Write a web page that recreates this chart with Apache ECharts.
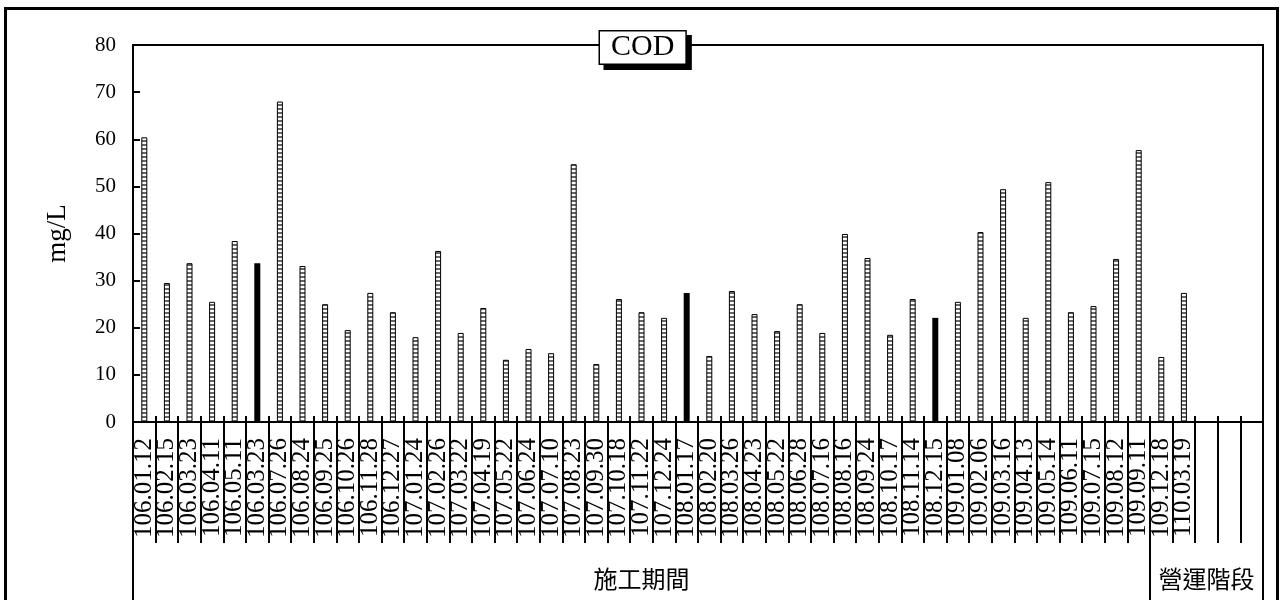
<!DOCTYPE html>
<html>
<head>
<meta charset="utf-8">
<script src="https://cdn.jsdelivr.net/npm/echarts@6/dist/echarts.min.js"></script>
<style>
html,body{margin:0;padding:0;background:#fff;}
#chart{width:1280px;height:600px;}
</style>
</head>
<body>
<div id="chart"></div>
<script>
// ---- data ----
const categories = [
  '106.01.12','106.02.15','106.03.23','106.04.11','106.05.11','106.03.23','106.07.26','106.08.24','106.09.25','106.10.26','106.11.28','106.12.27',
  '107.01.24','107.02.26','107.03.22','107.04.19','107.05.22','107.06.24','107.07.10','107.08.23','107.09.30','107.10.18','107.11.22','107.12.24',
  '108.01.17','108.02.20','108.03.26','108.04.23','108.05.22','108.06.28','108.07.16','108.08.16','108.09.24','108.10.17','108.11.14','108.12.15',
  '109.01.08','109.02.06','109.03.16','109.04.13','109.05.14','109.06.11','109.07.15','109.08.12','109.09.11',
  '109.12.18','110.03.19','','',''
];
const codValues = [
  60.4, 29.5, 33.7, 25.5, 38.4, 33.7, 68.0, 33.1, 25.0, 19.5, 27.4, 23.3,
  18.0, 36.3, 18.9, 24.2, 13.2, 15.5, 14.6, 54.7, 12.3, 26.1, 23.3, 22.1,
  27.4, 14.0, 27.8, 22.9, 19.3, 25.0, 18.9, 39.9, 34.8, 18.5, 26.1, 22.1,
  25.5, 40.3, 49.4, 22.1, 50.9, 23.3, 24.6, 34.6, 57.7,
  13.8, 27.4, null, null, null
];
const solidBarIndex = [5, 24, 35];
const phaseNames = ['施工期間', '營運階段'];
const phaseCounts = [45, 5];
const yTicks = [0, 10, 20, 30, 40, 50, 60, 70, 80];
const titleText = 'COD';
const yName = 'mg/L';

// ---- build ----
const pc = document.createElement('canvas');
pc.width = 1; pc.height = 4;
const ctx = pc.getContext('2d');
ctx.fillStyle = '#fff'; ctx.fillRect(0, 0, 1, 4);
ctx.fillStyle = '#666'; ctx.fillRect(0, 0, 1, 2);

const barData = codValues.map((v, i) => {
  if (solidBarIndex.indexOf(i) >= 0) {
    return { value: v, itemStyle: { color: '#000', borderColor: '#000', borderWidth: 0 } };
  }
  return { value: v };
});

const phaseLabels = categories.map(() => '');
const phaseStarts = [];
let start = 0;
phaseNames.forEach((n, k) => {
  phaseStarts.push(start);
  const mid = start + Math.floor(phaseCounts[k] / 2);
  phaseLabels[mid] = n;
  start += phaseCounts[k];
});

const serif = '"Liberation Serif","Times New Roman",serif';
const chart = echarts.init(document.getElementById('chart'));
chart.setOption({
  animation: false,
  backgroundColor: '#fff',
  title: {
    text: '{box|' + titleText + '}',
    left: 600,
    top: 31,
    padding: 0,
    textStyle: {
      rich: {
        box: {
          fontFamily: serif, fontSize: 30, fontWeight: 'normal', color: '#000', lineHeight: 33,
          backgroundColor: '#fff', borderColor: '#000', borderWidth: 1.5,
          padding: [1, 11, 1, 11],
          shadowColor: '#000', shadowBlur: 0, shadowOffsetX: 5, shadowOffsetY: 5
        }
      }
    }
  },
  graphic: [{
    type: 'rect', silent: true, z: 100,
    shape: { x: 5.5, y: 8.5, width: 1272, height: 640 },
    style: { fill: 'none', stroke: '#000', lineWidth: 3 }
  }],
  grid: {
    left: 133, right: 17, top: 45, bottom: 178,
    show: true, borderColor: '#000', borderWidth: 2, backgroundColor: 'transparent'
  },
  xAxis: [
    {
      type: 'category', data: categories, position: 'bottom',
      axisLine: { show: true, lineStyle: { color: '#000', width: 2 } },
      axisTick: { show: true, inside: true, length: 6, interval: 0, lineStyle: { color: '#000', width: 2 } },
      axisLabel: { show: true, interval: 0, rotate: 90, margin: 16, color: '#000', fontFamily: serif, fontSize: 25 },
      splitLine: { show: false }
    },
    {
      type: 'category', data: categories, position: 'bottom', gridIndex: 0,
      axisLine: { show: true, lineStyle: { color: '#000', width: 2 } },
      axisTick: { show: true, inside: false, length: 121, interval: 0, lineStyle: { color: '#000', width: 2 } },
      axisLabel: { show: false },
      splitLine: { show: false }
    },
    {
      type: 'category', data: phaseLabels, position: 'bottom', gridIndex: 0, offset: 121,
      axisLine: { show: false },
      axisTick: {
        show: true, inside: false,
        length: 60,
        interval: function (idx) { return phaseStarts.indexOf(idx) >= 0; },
        lineStyle: { color: '#000', width: 2 }
      },
      axisLabel: {
        show: true, interval: 0, margin: 24, color: '#000',
        fontFamily: '"Noto Sans CJK TC","Noto Sans CJK SC",sans-serif', fontSize: 24
      },
      splitLine: { show: false }
    }
  ],
  yAxis: {
    type: 'value', min: yTicks[0], max: yTicks[yTicks.length - 1], interval: yTicks[1] - yTicks[0],
    name: yName, nameLocation: 'middle', nameGap: 62, nameRotate: 90,
    nameTextStyle: { fontFamily: serif, fontSize: 27, color: '#000' },
    axisLine: { show: true, lineStyle: { color: '#000', width: 2 } },
    axisTick: { show: true, inside: true, length: 7, lineStyle: { color: '#000', width: 2 } },
    axisLabel: { margin: 17, color: '#000', fontFamily: serif, fontSize: 21 },
    splitLine: { show: false }
  },
  series: [{
    type: 'bar', xAxisIndex: 0, data: barData, barWidth: 6,
    itemStyle: { color: { image: pc, repeat: 'repeat' }, borderColor: '#000', borderWidth: 1 }
  }]
});
</script>
</body>
</html>
